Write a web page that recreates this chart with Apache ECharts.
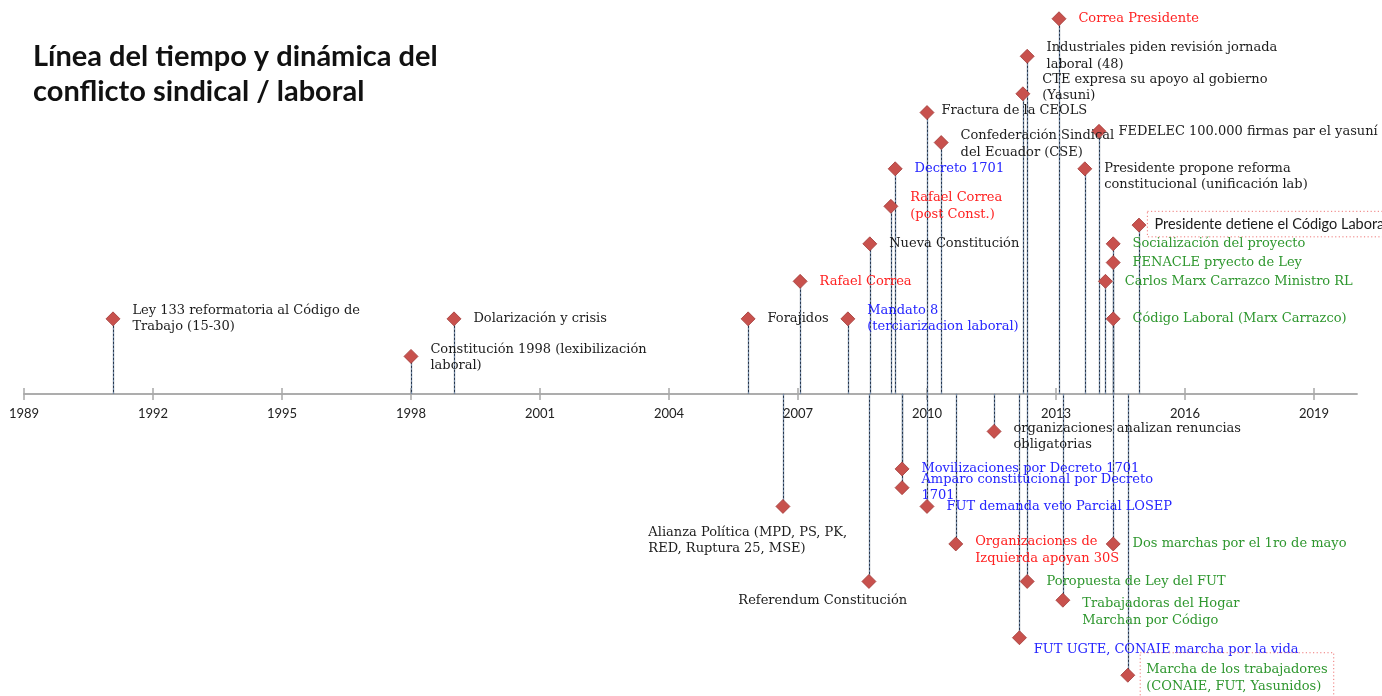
<!DOCTYPE html>
<html><head><meta charset="utf-8">
<script src="https://cdn.jsdelivr.net/npm/echarts@6/dist/echarts.min.js"></script>
<style>html,body{margin:0;padding:0;background:#fff}#c{width:1382px;height:696px}</style>
</head><body><div id="c"></div>
<script>
const tickYears = [1989, 1992, 1995, 1998, 2001, 2004, 2007, 2010, 2013, 2016, 2019];

const eventYears = [
  1991.07, 1998.0, 1999.0, 2005.84, 2007.05, 2008.16, 2008.67, 2009.16, 2009.26, 2010.0,
  2010.33, 2012.23, 2012.33, 2013.07, 2013.67, 2014.0, 2014.15, 2014.33, 2014.33, 2014.33,
  2014.93, 2011.56, 2009.42, 2009.42, 2010.0, 2006.65, 2010.67, 2008.65, 2014.33, 2012.33,
  2013.16, 2012.15, 2014.67
];
const eventLevels = [
  4, 2, 4, 4, 6, 4, 8, 10, 12, 15,
  13.4, 16, 18, 20, 12, 14, 6, 7, 8, 4,
  9, -2, -4, -5, -6, -6, -8, -10, -8, -10,
  -11, -13, -15
];
const eventLabels = [
  'Ley 133 reformatoria al Código de\nTrabajo (15-30)',
  'Constitución 1998 (lexibilización\nlaboral)',
  'Dolarización y crisis',
  'Forajidos',
  'Rafael Correa',
  'Mandato 8\n(terciarizacion laboral)',
  'Nueva Constitución',
  'Rafael Correa\n(post Const.)',
  'Decreto 1701',
  'Fractura de la CEOLS',
  'Confederación Sindical\ndel Ecuador (CSE)',
  'CTE expresa su apoyo al gobierno\n(Yasuni)',
  'Industriales piden revisión jornada\nlaboral (48)',
  'Correa Presidente',
  'Presidente propone reforma\nconstitucional (unificación lab)',
  'FEDELEC 100.000 firmas par el yasuní',
  'Carlos Marx Carrazco Ministro RL',
  'FENACLE pryecto de Ley',
  'Socialización del proyecto',
  'Código Laboral (Marx Carrazco)',
  'Presidente detiene el Código Laboral',
  'organizaciones analizan renuncias\nobligatorias',
  'Movilizaciones por Decreto 1701',
  'Amparo constitucional por Decreto\n1701',
  'FUT demanda veto Parcial LOSEP',
  'Alianza Política (MPD, PS, PK,\nRED, Ruptura 25, MSE)',
  'Organizaciones de\nIzquierda apoyan 30S',
  'Referendum Constitución',
  'Dos marchas por el 1ro de mayo',
  'Poropuesta de Ley del FUT',
  'Trabajadoras del Hogar\nMarchan por Código',
  'FUT UGTE, CONAIE marcha por la vida',
  'Marcha de los trabajadores\n(CONAIE, FUT, Yasunidos)'
];
const eventTones = [
  'k','k','k','k','r','b','k','r','b','k',
  'k','k','k','r','k','k','g','g','g','g',
  'k','k','b','b','b','k','r','k','g','g',
  'g','b','g'
];

const toneColor = { k: '#1c1c1c', r: '#ff2222', b: '#2626ff', g: '#2f972f' };
const boxStyle = { borderColor: '#ee7777', borderWidth: 1, borderType: [1.2, 2.4] };
const labelTweaks = {
  1: { shift: [0, 1] },
  9: { shift: [-5, -2] },
  10: { shift: [0, 1.5] },
  11: { shift: [0, -6] },
  14: { shift: [0, 8] },
  20: { shift: [-11, -1], box: true, padding: [5, 7, 4, 7], sans: true },
  21: { shift: [0, 5] },
  25: { shift: [-154, 34] },
  26: { shift: [0, 6] },
  27: { shift: [-150, 19] },
  30: { shift: [0, 12] },
  31: { shift: [-5, 12] },
  32: { shift: [-7, 3], box: true, padding: [6, 6, 12, 6] }
};

const points = eventYears.map((yr, i) => {
  const t = labelTweaks[i] || {};
  const label = { color: toneColor[eventTones[i]] };
  if (t.box) Object.assign(label, boxStyle, { padding: t.padding });
  if (t.sans) Object.assign(label, { fontFamily: 'Lato', fontSize: 14.5 });
  return { value: [yr, eventLevels[i]], label: label };
});

const chart = echarts.init(document.getElementById('c'));
const axisGray = '#a8a8a8';
const X0 = 1989, X1 = 2020;
chart.setOption({
  animation: false,
  backgroundColor: '#fff',
  title: {
    text: 'Línea del tiempo y dinámica del\nconflicto sindical / laboral',
    left: 33, top: 39, padding: 0,
    textStyle: { fontFamily: 'Lato', fontSize: 29, fontWeight: 'bold', lineHeight: 35, color: '#111' }
  },
  grid: [
    { left: 24, right: 25, top: 0, bottom: 2, outerBoundsMode: 'none', containLabel: false },
    { left: 24, right: 25, top: 0, height: 394, outerBoundsMode: 'none', containLabel: false }
  ],
  xAxis: [
    { type: 'value', gridIndex: 0, min: X0, max: X1, show: false },
    {
      type: 'value', gridIndex: 1, min: X0, max: X1, position: 'bottom',
      axisLine: { onZero: false, lineStyle: { color: axisGray, width: 1.5 } },
      axisTick: { customValues: tickYears, length: 6, lineStyle: { color: axisGray, width: 1.5 } },
      axisLabel: { customValues: tickYears, formatter: v => String(v), color: '#222', fontFamily: 'Lato', fontSize: 13, margin: 13 },
      splitLine: { show: false }
    },
    {
      type: 'value', gridIndex: 1, min: X0, max: X1, position: 'bottom',
      axisLine: { onZero: false, lineStyle: { color: axisGray, width: 1.5 } },
      axisTick: { customValues: tickYears, inside: true, length: 6, lineStyle: { color: axisGray, width: 1.5 } },
      axisLabel: { show: false },
      splitLine: { show: false }
    }
  ],
  yAxis: [
    { type: 'value', gridIndex: 0, min: -16, max: 21, show: false },
    { type: 'value', gridIndex: 1, min: 0, max: 1, show: false }
  ],
  series: [
    {
      type: 'custom', silent: true, z: 1, xAxisIndex: 0, yAxisIndex: 0,
      data: eventYears.map((yr, i) => [yr, eventLevels[i]]),
      renderItem: (params, api) => {
        const p0 = api.coord([api.value(0), 0]);
        const p1 = api.coord([api.value(0), api.value(1)]);
        const x = Math.round(p0[0]) + 0.5;
        return {
          type: 'group',
          children: [
            { type: 'line', shape: { x1: x, y1: p0[1], x2: x, y2: p1[1] }, style: { stroke: '#24344a', lineWidth: 1.2 } },
            { type: 'line', shape: { x1: x, y1: p0[1], x2: x, y2: p1[1] }, style: { stroke: '#9cb6d8', lineWidth: 0.7, lineDash: [2, 2] } }
          ]
        };
      }
    },
    {
      type: 'scatter', z: 3, xAxisIndex: 0, yAxisIndex: 0,
      symbol: 'diamond', symbolSize: 14,
      itemStyle: { color: '#c8514d', borderColor: '#a13b38', borderWidth: 0.8, opacity: 1 },
      label: {
        show: true, position: 'right', distance: 12,
        formatter: p => eventLabels[p.dataIndex],
        fontFamily: 'DejaVu Serif', fontSize: 13, lineHeight: 16.5
      },
      labelLayout: p => {
        const t = labelTweaks[p.dataIndex];
        return t && t.shift ? { dx: t.shift[0], dy: t.shift[1], hideOverlap: false } : { hideOverlap: false };
      },
      data: points
    }
  ]
});
</script>
</body></html>
